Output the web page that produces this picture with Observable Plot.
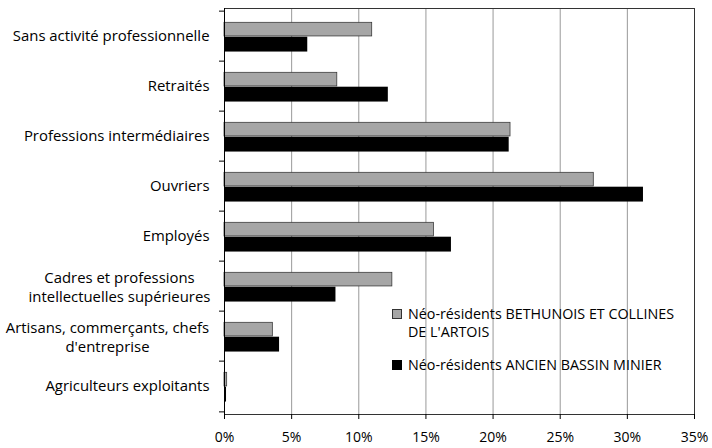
<!DOCTYPE html>
<html><head><meta charset="utf-8">
<script src="https://cdn.jsdelivr.net/npm/d3@7"></script>
<script src="https://cdn.jsdelivr.net/npm/@observablehq/plot@0.6"></script>
<style>
body{margin:0;background:#fff;font-family:"Open Sans",sans-serif;}
#wrap{position:relative;width:712px;height:448px;}
.lg{position:absolute;font-family:"Open Sans",sans-serif;font-size:14.3px;line-height:18px;color:#000;white-space:nowrap;}
.sw{position:absolute;box-sizing:border-box;width:10px;height:10px;}
</style></head><body>
<div id="wrap"></div>
<script>
const categories = [
  "Sans activité professionnelle",
  "Retraités",
  "Professions intermédiaires",
  "Ouvriers",
  "Employés",
  "Cadres et professions intellectuelles supérieures",
  "Artisans, commerçants, chefs d'entreprise",
  "Agriculteurs exploitants"
];
const categoryLabels = [
  "Sans activité professionnelle",
  "Retraités",
  "Professions intermédiaires",
  "Ouvriers",
  "Employés",
  "Cadres et professions\nintellectuelles supérieures",
  "Artisans, commerçants, chefs\nd'entreprise",
  "Agriculteurs exploitants"
];
const seriesNames = ["Néo-résidents BETHUNOIS ET COLLINES DE L'ARTOIS", "Néo-résidents ANCIEN BASSIN MINIER"];
const bethunois = [11.0, 8.4, 21.3, 27.5, 15.6, 12.5, 3.6, 0.2];
const bassinMinier = [6.2, 12.2, 21.2, 31.2, 16.9, 8.3, 4.1, 0.15];
const xTicks = [0, 5, 10, 15, 20, 25, 30, 35];

const rowsGray = categories.map((c, i) => ({category: c, series: seriesNames[0], value: bethunois[i]}));
const rowsBlack = categories.map((c, i) => ({category: c, series: seriesNames[1], value: bassinMinier[i]}));
const labelOf = new Map(categories.map((c, i) => [c, categoryLabels[i]]));

const W = 712, H = 448, mT = 8, mB = 34, mL = 224, mR = 18;
const band = (H - mT - mB) / categories.length;
const singles = categories.filter(c => !labelOf.get(c).includes("\n"));
const FS = "14.9px";
const FSX = "14px";

const chart = Plot.plot({
  width: W, height: H,
  marginLeft: mL, marginRight: mR, marginTop: mT, marginBottom: mB,
  style: {fontFamily: "'Open Sans', sans-serif", fontSize: FS, color: "#000", background: "#fff"},
  x: {domain: [0, 35], ticks: xTicks, label: null},
  y: {domain: categories, padding: 0, label: null},
  marks: [
    Plot.gridX(xTicks.slice(1, -1), {stroke: "#999", strokeOpacity: 1}),
    Plot.barX(rowsGray, {x: "value", y: "category", fill: "#a6a6a6", stroke: "#333", strokeWidth: 0.75, insetTop: 11.3, insetBottom: band - 25.7}),
    Plot.barX(rowsBlack, {x: "value", y: "category", fill: "#000", insetTop: 25.7, insetBottom: band - 41.3}),
    Plot.frame({stroke: "#333"}),
    Plot.ruleX([0], {stroke: "#000"}),
    Plot.axisX({ticks: xTicks, tickSize: 5, tickPadding: 13, tickFormat: d => d + "%", stroke: "#000", fill: "#000", label: null, fontSize: FSX}),
    Plot.axisY({tickSize: 5, dy: -band / 2, tickFormat: () => "", stroke: "#000", label: null}),
    Plot.axisY({ticks: [categories[categories.length - 1]], tickSize: 5, dy: band / 2, tickFormat: () => "", stroke: "#000", label: null}),
    Plot.axisY({ticks: singles, tickSize: 0, tickPadding: 15, tickFormat: c => labelOf.get(c), fill: "#000", label: null, fontSize: FS}),
    Plot.axisY({ticks: [categories[5]], tickSize: 0, tickPadding: 0, textAnchor: "middle", dx: -105, lineHeight: 1.3, tickFormat: c => labelOf.get(c), fill: "#000", label: null, fontSize: FS}),
    Plot.axisY({ticks: [categories[6]], tickSize: 0, tickPadding: 0, textAnchor: "middle", dx: -117, lineHeight: 1.3, tickFormat: c => labelOf.get(c), fill: "#000", label: null, fontSize: FS})
  ]
});

const wrap = document.getElementById("wrap");
wrap.appendChild(chart);
const legend = [
  {name: "Néo-résidents BETHUNOIS ET COLLINES<br>DE L'ARTOIS", fill: "#a6a6a6", border: "#333", top: 305},
  {name: "Néo-résidents ANCIEN BASSIN MINIER", fill: "#000", border: "#000", top: 356}
];
legend.forEach(l => {
  const s = document.createElement("div");
  s.className = "sw";
  s.style.left = "392px"; s.style.top = (l.top + 4) + "px";
  s.style.background = l.fill; s.style.border = "1px solid " + l.border;
  wrap.appendChild(s);
  const t = document.createElement("div");
  t.className = "lg";
  t.style.left = "408px"; t.style.top = l.top + "px";
  t.innerHTML = l.name;
  wrap.appendChild(t);
});
</script>
</body></html>
